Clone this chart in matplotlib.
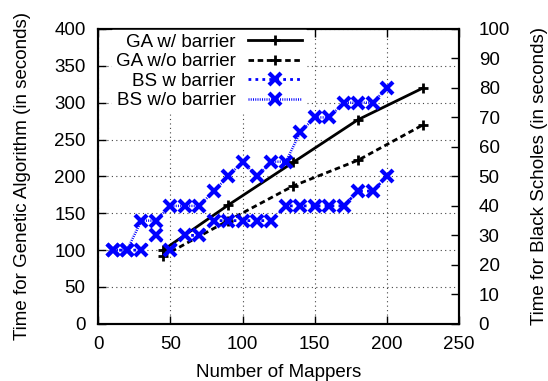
import matplotlib
matplotlib.use("Agg")
import matplotlib.pyplot as plt

plt.rcParams["font.family"] = ["Liberation Sans", "DejaVu Sans"]
plt.rcParams["font.size"] = 13.5

# GA 데이터 (왼쪽 축)
ga_x = [45, 90, 135, 180, 225]
ga_with = [100, 161, 219, 277, 320]
ga_without = [92, 140, 187, 222, 270]

# Black Scholes 데이터 (오른쪽 축)
bs_x = [10, 20, 30, 40, 50, 60, 70, 80, 90, 100,
        110, 120, 130, 140, 150, 160, 170, 180, 190, 200]
bs_with = [25, 25, 25, 30, 25, 30, 30, 35, 35, 35,
           35, 35, 40, 40, 40, 40, 40, 45, 45, 50]
bs_without = [25, 25, 35, 35, 40, 40, 40, 45, 50, 55,
              50, 55, 55, 65, 70, 70, 75, 75, 75, 80]

fig = plt.figure(figsize=(5.48, 3.81), dpi=100)
ax = fig.add_axes([0.179, 0.150, 0.659, 0.774])
ax2 = ax.twinx()

l1, = ax.plot(ga_x, ga_with, "-", color="black", lw=2, marker="+",
              ms=7, mew=2, label="GA w/ barrier")
l2, = ax.plot(ga_x, ga_without, color="black", lw=2, ls=(0, (2, 1.3)),
              marker="+", ms=7, mew=2, label="GA w/o barrier")
l3, = ax2.plot(bs_x, bs_with, color="#0000ff", lw=2, ls=(0, (1, 1.5)),
               marker="x", ms=8.5, mew=3, label="BS w barrier")
l4, = ax2.plot(bs_x, bs_without, color="#0000ff", lw=1.8, ls=(0, (0.4, 0.5)),
               marker="x", ms=8.5, mew=3, label="BS w/o barrier")

ax.set_xlim(0, 250)
ax.set_ylim(0, 400)
ax2.set_ylim(0, 100)
ax.set_xticks([0, 50, 100, 150, 200, 250])
ax.set_yticks(range(0, 401, 50))
ax2.set_yticks(range(0, 101, 10))

ax.grid(True, color="#444444", lw=0.8, ls=(0, (1, 3)))
ax.tick_params(axis="both", direction="in", top=True, length=6, width=1, pad=9)
ax2.tick_params(direction="in", length=6, width=1, pad=14)
for a in (ax, ax2):
    for s in a.spines.values():
        s.set_linewidth(1.5)

ax.set_xlabel("Number of Mappers")
ax.set_ylabel("Time for Genetic Algorithm (in seconds)")
ax2.set_ylabel("Time for Black Scholes (in seconds)")
ax.xaxis.set_label_coords(0.5, -0.135)
ax.yaxis.set_label_coords(-0.185, 0.5)
ax2.yaxis.set_label_coords(1.2, 0.5)

# 범례: 글자 오른쪽 정렬, 선은 글자 오른쪽
leg = ax2.legend(handles=[l1, l2, l3, l4], loc="upper right",
                 bbox_to_anchor=(0.578, 1.0), markerfirst=False,
                 frameon=True, fancybox=False, edgecolor="white", framealpha=1,
                 handlelength=2.9, borderaxespad=0.05, borderpad=0.2,
                 labelspacing=0.13, handletextpad=0.65)
for t in leg.get_texts():
    t.set_ha("right")
leg._legend_box.align = "right"

fig.savefig("out.png", dpi=100)
